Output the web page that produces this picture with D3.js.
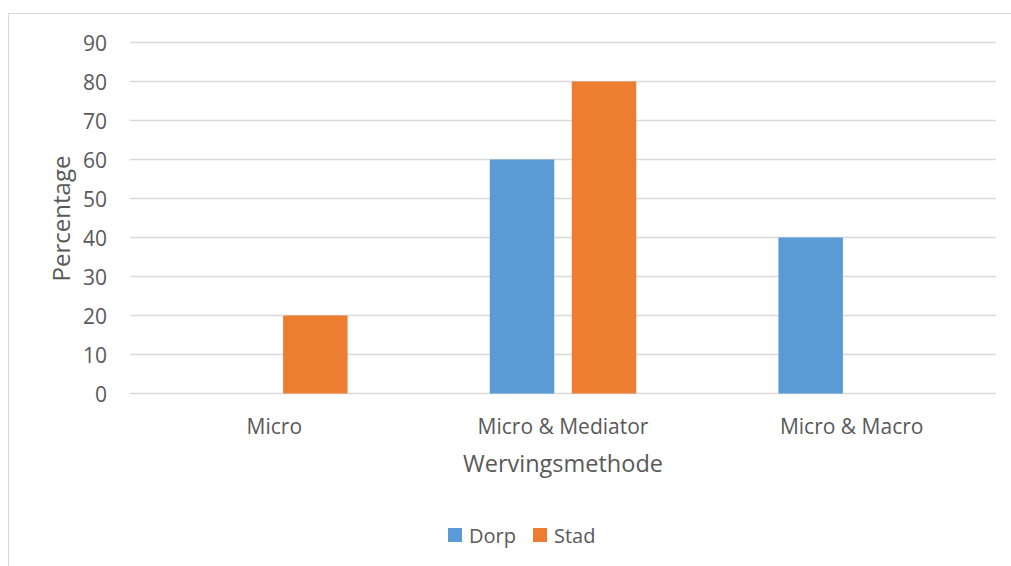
<!DOCTYPE html>
<html><head><meta charset="utf-8">
<script src="https://cdn.jsdelivr.net/npm/d3@7"></script>
<style>body{margin:0;background:#fff}svg{display:block}text{font-family:"Open Sans",sans-serif;fill:#595959}</style>
</head><body>
<svg id="c" width="1011" height="566"></svg>
<script>
const categories = ["Micro", "Micro & Mediator", "Micro & Macro"];
const seriesNames = ["Dorp", "Stad"];
const dorp = [0, 60, 40];
const stad = [20, 80, 0];
const yTicks = [0, 10, 20, 30, 40, 50, 60, 70, 80, 90];
const colors = ["#5B9BD5", "#ED7D31"];

(function () {
const svg = d3.select("#c");
svg.append("rect").attr("x", 8.5).attr("y", 13.5).attr("width", 1010).attr("height", 560)
  .attr("fill", "#fff").attr("stroke", "#D9D9D9").attr("stroke-width", 1);

const pLeft = 130, pRight = 996, pTop = 42.5, pBottom = 393.5;
const x = d3.scaleBand().domain(categories).range([pLeft, pRight]).paddingInner(0).paddingOuter(0);
const y = d3.scaleLinear().domain([0, 90]).range([pBottom, pTop]);

// gridlines
svg.append("g").selectAll("line").data(yTicks).join("line")
  .attr("x1", pLeft).attr("x2", pRight)
  .attr("y1", d => y(d)).attr("y2", d => y(d))
  .attr("stroke", "#D9D9D9").attr("stroke-width", 1.3);

// y tick labels
const yAxis = d3.axisLeft(y).tickValues(yTicks).tickSize(0).tickPadding(0);
const yg = svg.append("g").attr("transform", `translate(107,0)`).call(yAxis);
yg.select(".domain").remove();
yg.selectAll("text").attr("font-size", 21).attr("fill", "#595959").attr("font-family", "Open Sans").attr("dy", "0.36em");

// bars
const bw = x.bandwidth();
const barW = 64.5, gap = 17.5;
const data = [dorp, stad];
const groupOffset = (bw - (2 * barW + gap)) / 2;
seriesNames.forEach((s, si) => {
  svg.append("g").selectAll("rect").data(categories.map((c, i) => ({c, v: data[si][i]})).filter(d => d.v > 0)).join("rect")
    .attr("x", d => x(d.c) + groupOffset + si * (barW + gap))
    .attr("width", barW)
    .attr("y", d => y(d.v))
    .attr("height", d => y(0) - y(d.v))
    .attr("fill", colors[si]);
});

// x axis labels
const xAxis = d3.axisBottom(x).tickSize(0).tickPadding(0);
const xg = svg.append("g").attr("transform", `translate(0,${pBottom})`).call(xAxis);
xg.select(".domain").remove();
xg.selectAll("text").attr("font-size", 21).attr("fill", "#595959").attr("font-family", "Open Sans").attr("y", 0).attr("dy", 40);

// axis titles
svg.append("text").attr("x", (pLeft + pRight) / 2).attr("y", 472).attr("text-anchor", "middle")
  .attr("font-size", 23.5).text("Wervingsmethode");
svg.append("text").attr("transform", "translate(70,218.5) rotate(-90)").attr("text-anchor", "middle")
  .attr("font-size", 24).text("Percentage");

// legend
const lg = svg.append("g");
const legX = [448, 533];
seriesNames.forEach((s, i) => {
  lg.append("rect").attr("x", legX[i]).attr("y", 528).attr("width", 14).attr("height", 14).attr("fill", colors[i]);
  lg.append("text").attr("x", legX[i] + 21).attr("y", 542.5).attr("font-size", 20).text(s);
});
})();
</script>
</body></html>
